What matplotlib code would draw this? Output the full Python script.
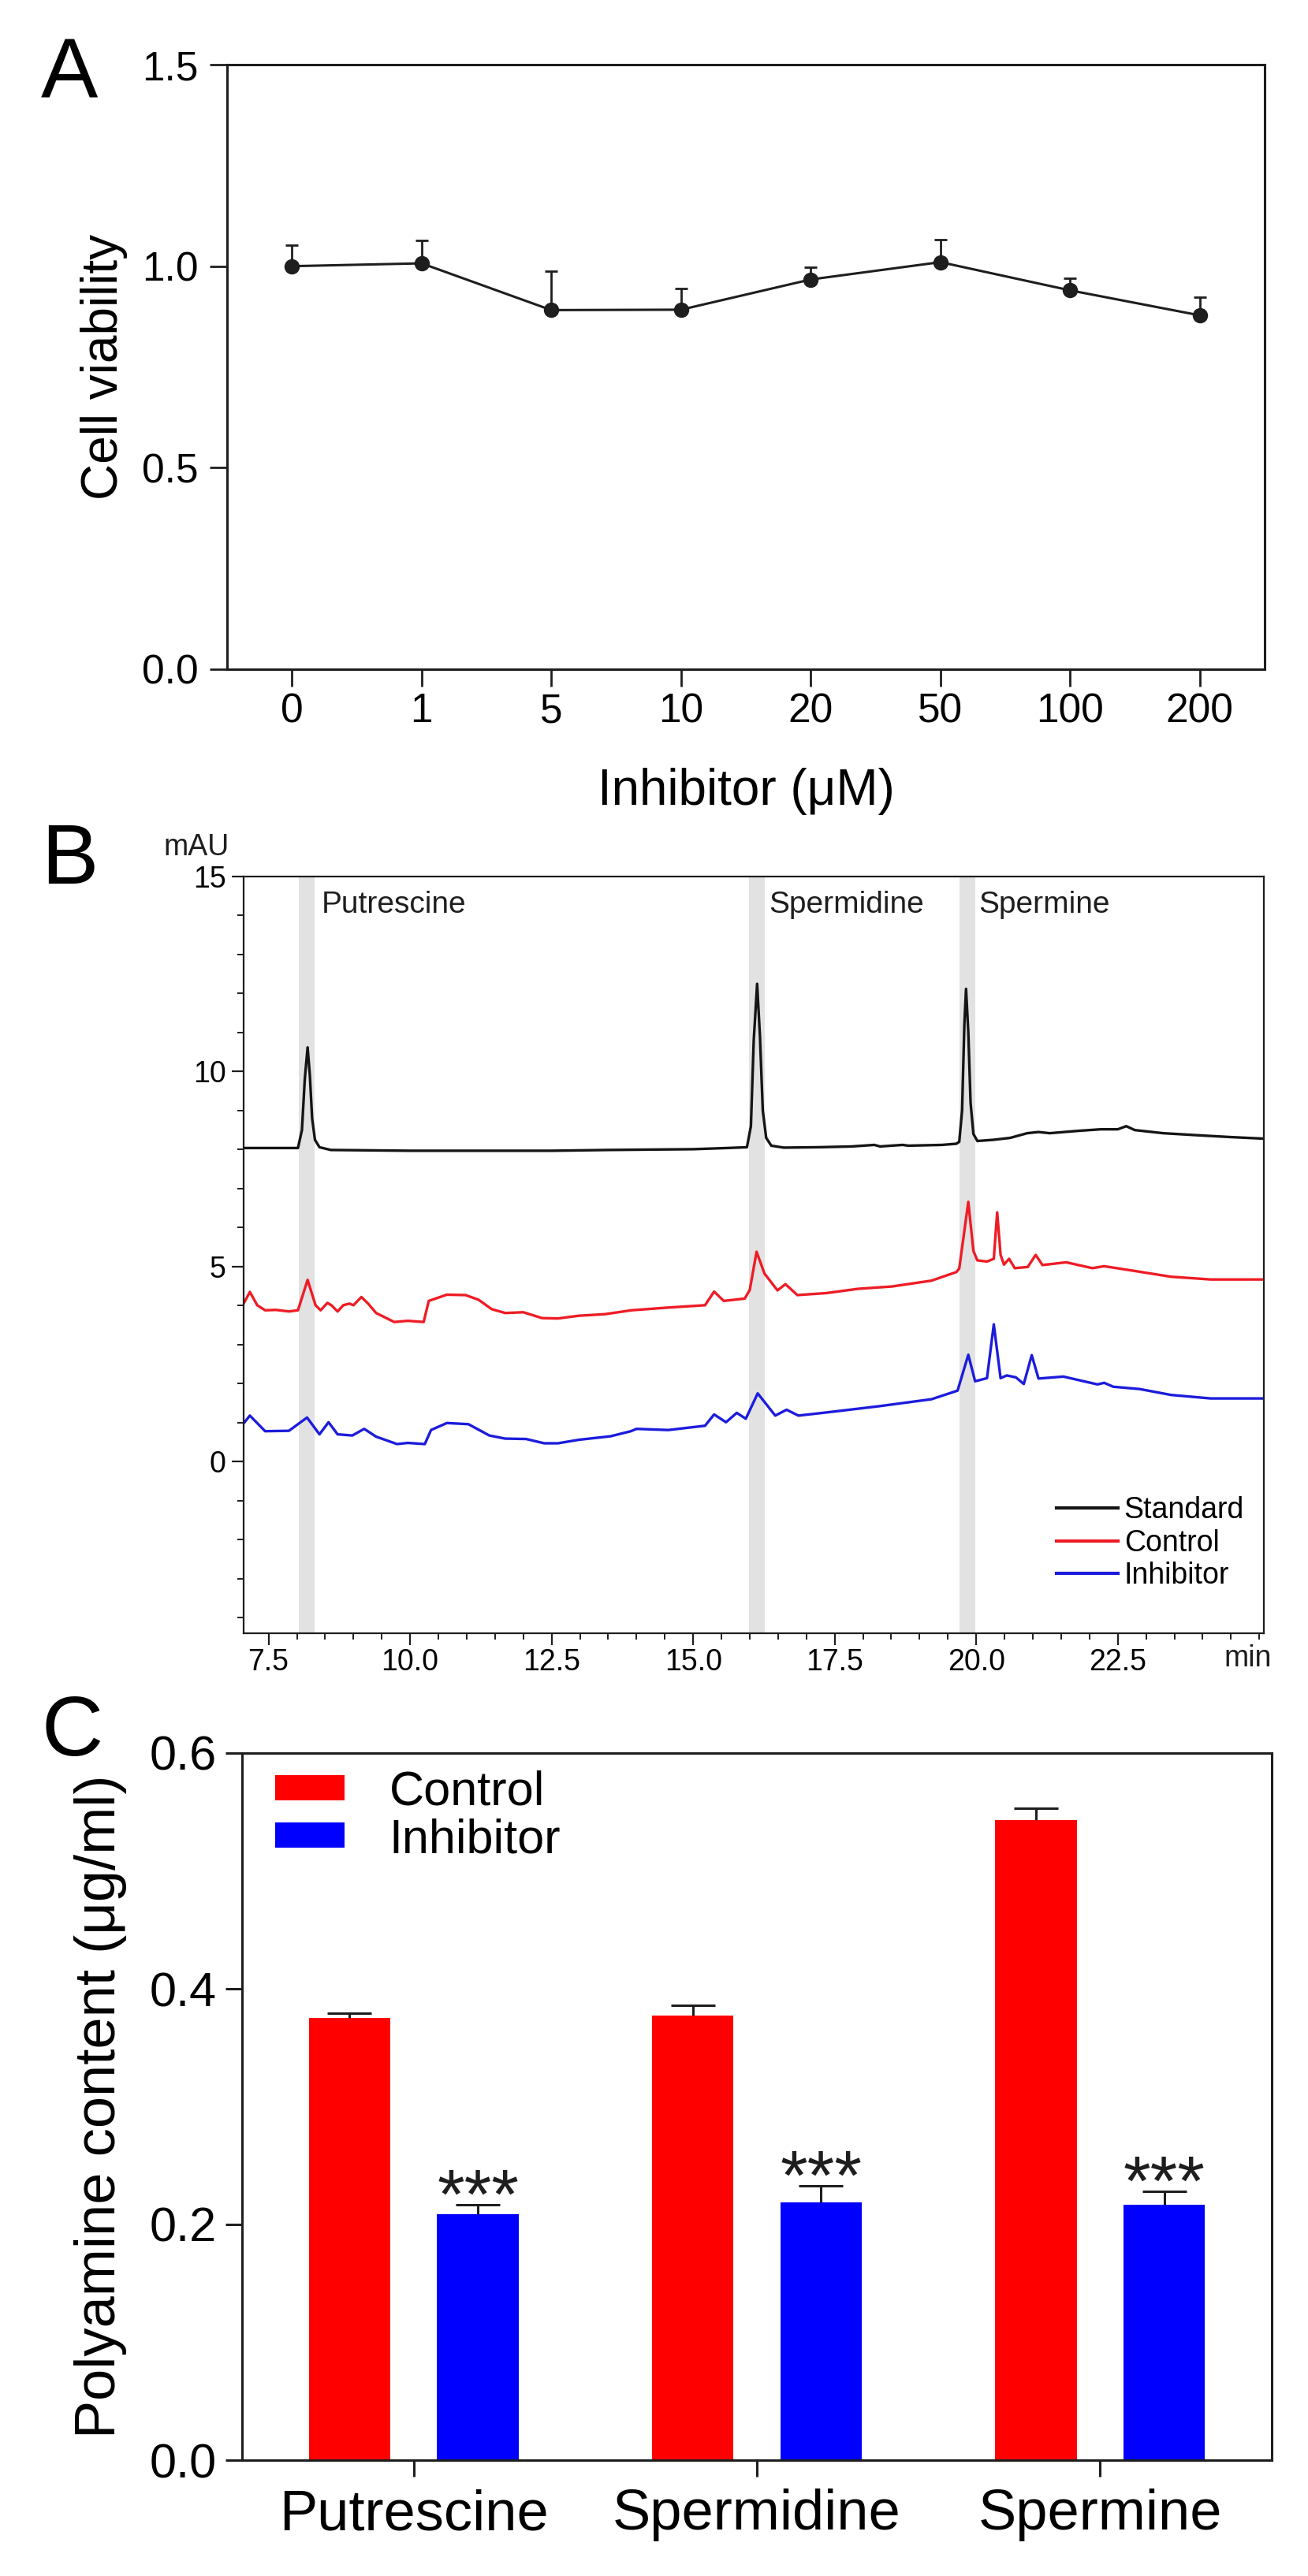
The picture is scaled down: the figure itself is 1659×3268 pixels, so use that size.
import matplotlib
matplotlib.use('Agg')  # no display
import matplotlib.pyplot as plt
from matplotlib.ticker import MultipleLocator
from matplotlib.transforms import blended_transform_factory
import numpy as np

plt.rcParams['font.family'] = ['Liberation Sans', 'DejaVu Sans']

# ---- panel A: cell viability ----
doses = ['0', '1', '5', '10', '20', '50', '100', '200']
viability = [1.00, 1.007, 0.891, 0.892, 0.967, 1.010, 0.940, 0.878]
viability_err = [0.053, 0.057, 0.097, 0.052, 0.031, 0.056, 0.030, 0.046]

# ---- panel B: chromatograms (time in min, absorbance in mAU) ----
std_t = [7.06, 7.60, 8.02, 8.09, 8.14, 8.19, 8.23, 8.27, 8.32, 8.40, 8.60, 10.0, 12.5,
         13.5, 15.0, 15.6, 15.95, 16.02, 16.07, 16.13, 16.18, 16.23, 16.29, 16.38, 16.6,
         17.2, 17.8, 18.2, 18.3, 18.7, 18.8, 19.4, 19.65, 19.70, 19.75, 19.79, 19.82,
         19.86, 19.90, 19.95, 20.02, 20.3, 20.6, 20.9, 21.1, 21.3, 21.8, 22.2, 22.5,
         22.65, 22.8, 23.3, 24.0, 24.5, 25.08]
std_y = [8.04, 8.04, 8.04, 8.50, 9.80, 10.62, 9.90, 8.80, 8.25, 8.06, 7.99, 7.97, 7.97,
         7.99, 8.01, 8.04, 8.06, 8.60, 10.80, 12.25, 10.90, 9.00, 8.30, 8.10, 8.05,
         8.06, 8.08, 8.12, 8.08, 8.12, 8.10, 8.12, 8.15, 8.20, 9.00, 11.20, 12.12,
         11.00, 9.20, 8.40, 8.22, 8.25, 8.30, 8.42, 8.45, 8.42, 8.48, 8.52, 8.52,
         8.60, 8.50, 8.42, 8.36, 8.32, 8.28]

ctl_t = [7.06, 7.17, 7.30, 7.44, 7.63, 7.86, 8.02, 8.19, 8.33, 8.42, 8.54, 8.61, 8.72,
         8.82, 8.93, 9.00, 9.14, 9.26, 9.40, 9.72, 9.96, 10.24, 10.33, 10.65, 10.98,
         11.21, 11.44, 11.68, 12.00, 12.33, 12.61, 12.98, 13.44, 13.91, 14.56, 15.21,
         15.37, 15.54, 15.91, 16.00, 16.12, 16.26, 16.49, 16.63, 16.84, 17.35, 17.91,
         18.51, 19.21, 19.65, 19.70, 19.86, 19.95, 20.02, 20.19, 20.31, 20.37, 20.43,
         20.49, 20.58, 20.68, 20.91, 21.05, 21.17, 21.59, 22.05, 22.26, 22.79, 23.44,
         24.14, 25.08]
ctl_y = [4.05, 4.35, 4.01, 3.88, 3.89, 3.85, 3.88, 4.66, 4.01, 3.88, 4.07, 4.01, 3.85,
         4.01, 4.05, 4.01, 4.22, 4.05, 3.81, 3.58, 3.61, 3.58, 4.12, 4.28, 4.27,
         4.15, 3.91, 3.81, 3.83, 3.68, 3.67, 3.74, 3.78, 3.88, 3.95, 4.01,
         4.36, 4.12, 4.18, 4.40, 5.38, 4.82, 4.39, 4.55, 4.27, 4.32, 4.43,
         4.49, 4.64, 4.86, 4.95, 6.66, 5.40, 5.16, 5.13, 5.20, 6.39, 5.30,
         5.05, 5.20, 4.96, 4.99, 5.30, 5.04, 5.11, 4.96, 5.01, 4.89, 4.74,
         4.67, 4.67]

inh_t = [7.06, 7.17, 7.44, 7.86, 8.18, 8.40, 8.56, 8.72, 8.98, 9.19, 9.40, 9.77, 9.96,
         10.26, 10.37, 10.65, 11.03, 11.40, 11.68, 12.05, 12.37, 12.61, 12.98, 13.54,
         13.90, 14.00, 14.56, 15.21, 15.37, 15.58, 15.77, 15.93, 16.14, 16.45, 16.65,
         16.86, 17.35, 18.28, 19.21, 19.67, 19.86, 19.98, 20.19, 20.31, 20.43, 20.54,
         20.70, 20.84, 20.98, 21.10, 21.54, 22.14, 22.26, 22.42, 22.89, 23.44, 24.14,
         25.08]
inh_y = [0.98, 1.18, 0.78, 0.79, 1.13, 0.70, 1.01, 0.70, 0.67, 0.84, 0.64, 0.45, 0.48,
         0.45, 0.81, 0.99, 0.96, 0.67, 0.59, 0.58, 0.47, 0.47, 0.56, 0.65,
         0.78, 0.84, 0.81, 0.92, 1.21, 1.01, 1.25, 1.10, 1.75, 1.18, 1.33,
         1.18, 1.26, 1.42, 1.60, 1.82, 2.74, 2.06, 2.14, 3.52, 2.14, 2.21,
         2.16, 1.99, 2.73, 2.13, 2.18, 1.98, 2.02, 1.92, 1.86, 1.71, 1.62,
         1.62]

peak_names = ['Putrescine', 'Spermidine', 'Spermine']
peak_bands = [(8.04, 8.32), (15.98, 16.27), (19.70, 19.99)]
peak_label_x = [8.43, 16.34, 20.04]

# ---- panel C: polyamine content ----
amines = ['Putrescine', 'Spermidine', 'Spermine']
ctrl_content = [0.375, 0.377, 0.543]
ctrl_err = [0.0045, 0.009, 0.0105]
inh_content = [0.209, 0.219, 0.217]
inh_err = [0.0074, 0.014, 0.011]

INK = '#1e1e1e'
W, H = 1659, 3268

fig = plt.figure(figsize=(W / 100, H / 100), dpi=100)


def px_axes(left, top, right, bottom):
    return fig.add_axes([left / W, 1 - bottom / H, (right - left) / W, (bottom - top) / H])


def style_spines(ax, lw):
    for s in ax.spines.values():
        s.set_linewidth(lw)
        s.set_color(INK)


# Panel A
ax1 = px_axes(288, 82, 1604, 849)
xa = np.arange(len(doses))
eb = ax1.errorbar(xa, viability, yerr=[np.zeros(len(xa)), viability_err], fmt='-o',
                  color=INK, ms=13, lw=2.2, elinewidth=2.0, capsize=5.5, capthick=2.0)
eb[1][0].set_visible(False)
ax1.set_xlim(-0.5, 7.5)
ax1.set_ylim(0, 1.5)
ax1.set_xticks(xa, doses)
ax1.set_yticks([0, 0.5, 1.0, 1.5], ['0.0', '0.5', '1.0', '1.5'])
ax1.tick_params(axis='both', direction='out', length=16, width=2.0, color=INK, labelsize=37)
ax1.tick_params(axis='y', pad=10)
ax1.tick_params(axis='x', pad=5)
style_spines(ax1, 2.2)
ax1.set_ylabel('Cell viability', fontsize=46)
ax1.yaxis.set_label_coords(-0.0954, 0.5)
ax1.set_xlabel('Inhibitor (μM)', fontsize=46)
ax1.xaxis.set_label_coords(0.5, -0.163)

# Panel B
ax2 = px_axes(309, 1112, 1603, 2072)
for lo, hi in peak_bands:
    ax2.axvspan(lo, hi, color='#e2e2e2', lw=0, zorder=0)
ax2.plot(std_t, std_y, color='#151515', lw=2.4, label='Standard')
ax2.plot(ctl_t, ctl_y, color='#ee1c25', lw=2.4, label='Control')
ax2.plot(inh_t, inh_y, color='#1c1cdc', lw=2.4, label='Inhibitor')
ax2.set_xlim(7.06, 25.08)
ax2.set_ylim(-4.4, 15)
ax2.set_xticks([7.5, 10, 12.5, 15, 17.5, 20, 22.5],
               ['7.5', '10.0', '12.5', '15.0', '17.5', '20.0', '22.5'])
ax2.set_yticks([0, 5, 10, 15])
ax2.xaxis.set_minor_locator(MultipleLocator(0.5))
ax2.yaxis.set_minor_locator(MultipleLocator(1))
ax2.tick_params(axis='both', which='major', direction='out', length=11, width=1.6,
                color=INK, labelsize=27)
ax2.tick_params(axis='both', which='minor', direction='out', length=6, width=1.4, color=INK)
ax2.tick_params(axis='y', which='major', pad=5)
ax2.tick_params(axis='x', which='major', pad=3)
style_spines(ax2, 1.6)
for name, xl in zip(peak_names, peak_label_x):
    ax2.text(xl, 14.07, name, fontsize=28, ha='left', va='baseline', color=INK)
ax2.text(-0.014, 1.028, 'mAU', transform=ax2.transAxes, fontsize=27,
         ha='right', va='baseline', color=INK)
ax2.text(24.79, -0.0146, 'min', transform=blended_transform_factory(ax2.transData, ax2.transAxes),
         fontsize=27, ha='center', va='top', color=INK)
leg = ax2.legend(loc='upper left', bbox_to_anchor=(0.797, 0.181), frameon=False, fontsize=27,
                 handlelength=2.08, handletextpad=0.2, labelspacing=0.15, borderpad=0,
                 borderaxespad=0)
for line in leg.get_lines():
    line.set_linewidth(3.0)

# Panel C
ax3 = px_axes(307, 2224, 1613, 3121)
xc = np.arange(len(amines))
off, bw = 0.187, 0.237
ax3.bar(xc - off, ctrl_content, bw, color='#ff0000', label='Control')
ax3.bar(xc + off, inh_content, bw, color='#0000ff', label='Inhibitor')
for xs, vals, errs in [(xc - off, ctrl_content, ctrl_err), (xc + off, inh_content, inh_err)]:
    e = ax3.errorbar(xs, vals, yerr=[np.zeros(len(xs)), errs], fmt='none', ecolor=INK,
                     elinewidth=2.2, capsize=20, capthick=2.2)
    e[1][0].set_visible(False)
for i in range(len(amines)):
    ax3.annotate('***', xy=(xc[i] + off, inh_content[i] + inh_err[i]), xytext=(0, -12),
                 textcoords='offset points', ha='center', va='baseline', fontsize=64,
                 color=INK)
ax3.set_xlim(-0.5, 2.5)
ax3.set_ylim(0, 0.6)
ax3.set_xticks(xc, amines)
ax3.set_yticks([0, 0.2, 0.4, 0.6], ['0.0', '0.2', '0.4', '0.6'])
ax3.tick_params(axis='both', direction='out', length=15, width=2.2, color=INK)
ax3.tick_params(axis='y', labelsize=44, pad=8)
ax3.tick_params(axis='x', labelsize=52, pad=11)
style_spines(ax3, 2.2)
ax3.set_ylabel('Polyamine content (μg/ml)', fontsize=52)
ax3.yaxis.set_label_coords(-0.112, 0.5)
ax3.legend(loc='upper left', bbox_to_anchor=(0.032, 0.9755), frameon=False, fontsize=44,
           handlelength=1.44, handleheight=0.44, handletextpad=0.93, labelspacing=0.05,
           borderpad=0, borderaxespad=0)

# panel letters
for letter, base in [('A', 125), ('B', 1121), ('C', 2227)]:
    fig.text(52 / W, 1 - base / H, letter, fontsize=78, ha='left', va='baseline', color='black')

fig.savefig('out.png', dpi=100)
